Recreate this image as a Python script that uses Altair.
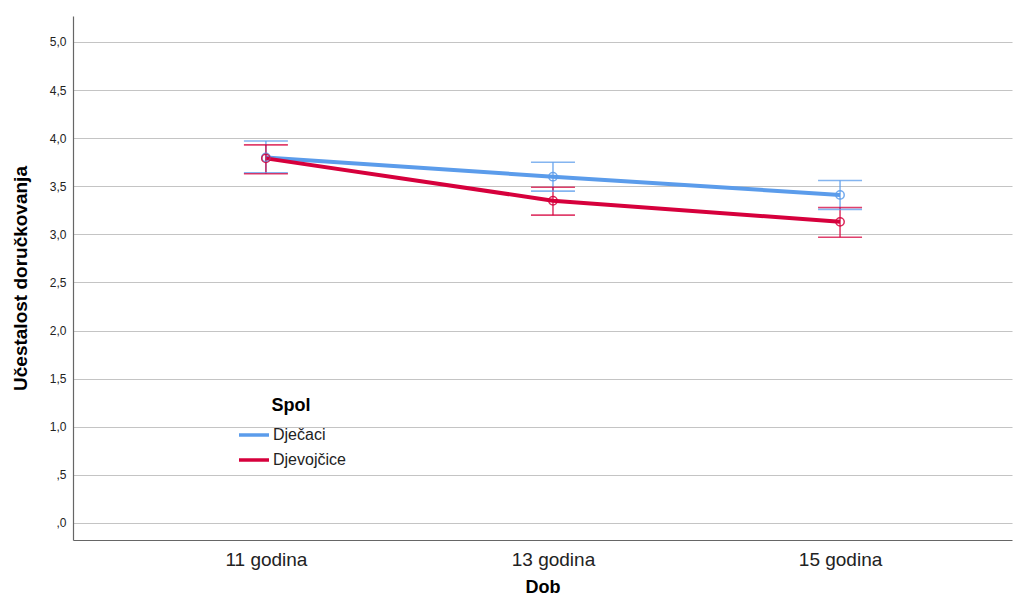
import altair as alt
import pandas as pd

ages = ["11 godina", "13 godina", "15 godina"]
groups = ["Dječaci", "Djevojčice"]
boys_mean = [3.80, 3.60, 3.41]
boys_low = [3.64, 3.45, 3.26]
boys_high = [3.97, 3.75, 3.56]
girls_mean = [3.79, 3.35, 3.13]
girls_low = [3.63, 3.20, 2.97]
girls_high = [3.93, 3.49, 3.28]
colors = ["#5B9CEB", "#D6003C"]

rows = []
for g, m, lo, hi in [(groups[0], boys_mean, boys_low, boys_high),
                     (groups[1], girls_mean, girls_low, girls_high)]:
    for i, (a, mv, lv, hv) in enumerate(zip(ages, m, lo, hi)):
        rows.append({"Dob": a, "idx": i, "Spol": g, "mean": mv, "low": lv, "high": hv})
df = pd.DataFrame(rows)

font = "Liberation Sans"
age_array = "[" + ",".join("'" + a + "'" for a in ages) + "]"
xscale = alt.Scale(domain=[-0.672, 2.599], nice=False, zero=False)
yscale = alt.Scale(domain=[-0.177, 5.27], nice=False, zero=False)
cscale = alt.Scale(domain=groups, range=colors)

base = alt.Chart(df)

x_axis = alt.Axis(title="Dob", values=[0, 1, 2], labelExpr=age_array + "[datum.value]",
                  ticks=False, grid=False,
                  labelFontSize=19, labelColor="#222", labelPadding=10,
                  titleFontSize=18, titleFontWeight="bold", titlePadding=9,
                  titleColor="#000", domainColor="#666", domainWidth=1.2,
                  labelFont=font, titleFont=font)
y_axis = alt.Axis(title="Učestalost doručkovanja", values=[0, 0.5, 1, 1.5, 2, 2.5, 3, 3.5, 4, 4.5, 5],
                  labelExpr="datum.value < 1 ? replace(format(datum.value, '.1f'), '0.', ',') : replace(format(datum.value, '.1f'), '.', ',')",
                  ticks=False, grid=True, gridColor="#c4c4c4", gridWidth=1.2,
                  labelFontSize=12, labelColor="#222", labelPadding=7,
                  titleFontSize=19, titleFontWeight="bold", titlePadding=19, titleColor="#000",
                  domainColor="#666", domainWidth=1.2, labelFont=font, titleFont=font)

color_enc = alt.Color("Spol:N", scale=cscale, sort=groups,
                      legend=alt.Legend(title="Spol", orient="none", legendX=164, legendY=381,
                                        symbolType="stroke", symbolSize=900, symbolStrokeWidth=3.5,
                                        titleFontSize=18, titleFontWeight="bold", titleFont=font,
                                        titleColor="#000", titlePadding=3, titleAnchor="middle",
                                        labelFont=font, labelFontSize=16, labelColor="#222",
                                        labelOffset=2, rowPadding=0))

xq = alt.X("idx:Q", scale=xscale, axis=x_axis)
xq2 = alt.X("idx:Q", scale=xscale)

lines = base.mark_line(strokeWidth=4).encode(
    x=xq,
    y=alt.Y("mean:Q", scale=yscale, axis=y_axis),
    color=color_enc,
)
pts = base.mark_point(shape="circle", size=70, filled=False, strokeWidth=1.5, opacity=0.85).encode(
    x=xq2,
    y=alt.Y("mean:Q", scale=yscale),
    color=alt.Color("Spol:N", scale=cscale, legend=None),
)
rules = base.mark_rule(strokeWidth=1.6, opacity=0.75).encode(
    x=xq2,
    y=alt.Y("low:Q", scale=yscale),
    y2="high:Q",
    color=alt.Color("Spol:N", scale=cscale, legend=None),
)
cap_lo = base.mark_tick(size=44, thickness=1.6, opacity=0.75, orient="horizontal").encode(
    x=xq2,
    y=alt.Y("low:Q", scale=yscale),
    color=alt.Color("Spol:N", scale=cscale, legend=None),
)
cap_hi = base.mark_tick(size=44, thickness=1.6, opacity=0.75, orient="horizontal").encode(
    x=xq2,
    y=alt.Y("high:Q", scale=yscale),
    color=alt.Color("Spol:N", scale=cscale, legend=None),
)

chart = alt.layer(lines, rules, cap_lo, cap_hi, pts).properties(
    width=939, height=524,
    autosize=alt.AutoSizeParams(type="none"),
    padding={"left": 65, "top": 8, "right": 4, "bottom": 57},
).configure(background="white").configure_view(stroke=None)

chart.save("out.html", embed_options={"renderer": "svg", "actions": False})
